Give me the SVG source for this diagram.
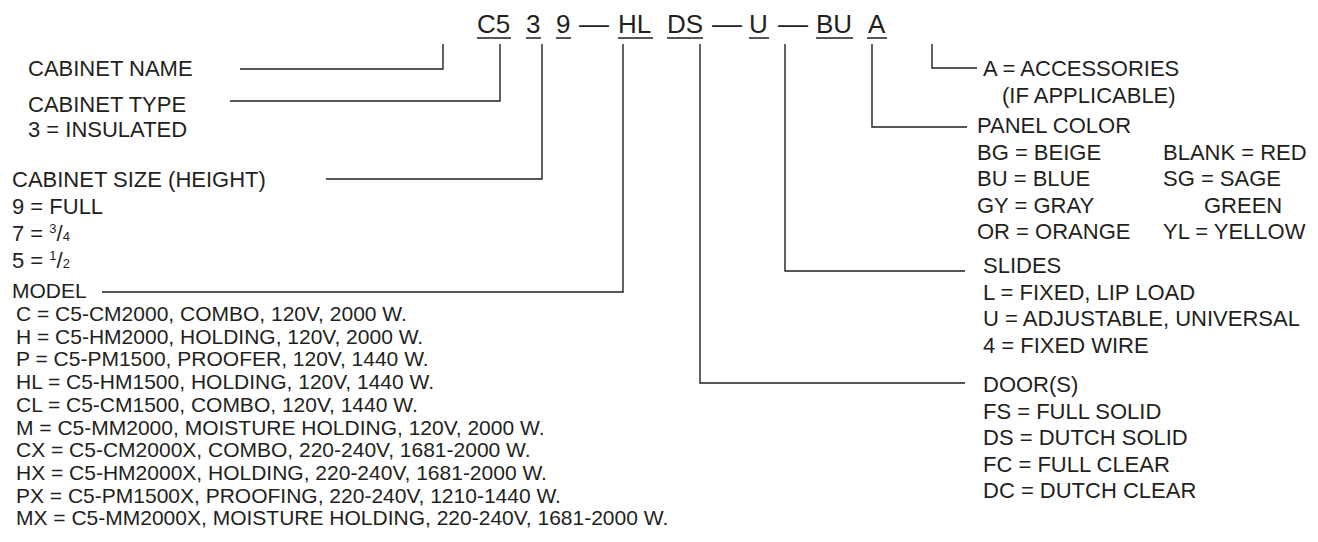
<svg xmlns="http://www.w3.org/2000/svg" width="1318" height="542" viewBox="0 0 1318 542">
<style>
text{font-family:"Liberation Sans",Arial,sans-serif;fill:#231f20}
.code{font-size:26px}
.lbl{font-size:22px}
.mdl{font-size:21px}
.sup{font-size:13px}
.ul{stroke:#231f20;stroke-width:1.3;fill:none}
.con{stroke:#231f20;stroke-width:1.4;fill:none}
</style>
<rect width="1318" height="542" fill="#ffffff"/>
<g id="code">
<text class="code" x="477" y="33">C5</text>
<text class="code" x="526" y="33">3</text>
<text class="code" x="556" y="33">9</text>
<text class="code" x="579" y="33" textLength="30" lengthAdjust="spacingAndGlyphs">—</text>
<text class="code" x="618" y="33">HL</text>
<text class="code" x="667" y="33">DS</text>
<text class="code" x="712" y="33" textLength="30" lengthAdjust="spacingAndGlyphs">—</text>
<text class="code" x="749" y="33">U</text>
<text class="code" x="778" y="33" textLength="30" lengthAdjust="spacingAndGlyphs">—</text>
<text class="code" x="816" y="33">BU</text>
<text class="code" x="868" y="33">A</text>
<path class="ul" d="M477 38H511M526 38H541M556 38H571M618 38H653M667 38H703M749 38H769M816 38H853M867 38H887"/>
</g>
<g id="connectors">
<polyline class="con" points="240,69 443,69 443,44"/>
<polyline class="con" points="230,101 500,101 500,44"/>
<polyline class="con" points="326,179 542,179 542,44"/>
<polyline class="con" points="102,292 623,292 623,44"/>
<polyline class="con" points="700,44 700,383 965,383"/>
<polyline class="con" points="785,44 785,271 965,271"/>
<polyline class="con" points="872,44 872,127 967,127"/>
<polyline class="con" points="932,44 932,68 977,68"/>
</g>
<g id="cabinet-name">
<text class="lbl" x="28" y="76">CABINET NAME</text>
</g>
<g id="cabinet-type">
<text class="lbl" x="28" y="112">CABINET TYPE</text>
<text class="lbl" x="28" y="137">3 = INSULATED</text>
</g>
<g id="cabinet-size">
<text class="lbl" x="12" y="187">CABINET SIZE (HEIGHT)</text>
<text class="lbl" x="12" y="214">9 = FULL</text>
<text class="lbl" x="12" y="241">7 = <tspan class="sup" dy="-8">3</tspan><tspan dy="8">/</tspan><tspan class="sup">4</tspan></text>
<text class="lbl" x="12" y="268">5 = <tspan class="sup" dy="-8">1</tspan><tspan dy="8">/</tspan><tspan class="sup">2</tspan></text>
</g>
<g id="model">
<text class="mdl" x="12" y="298">MODEL</text>
<text class="mdl" x="16" y="321">C = C5-CM2000, COMBO, 120V, 2000 W.</text>
<text class="mdl" x="16" y="343.7">H = C5-HM2000, HOLDING, 120V, 2000 W.</text>
<text class="mdl" x="16" y="366.4">P = C5-PM1500, PROOFER, 120V, 1440 W.</text>
<text class="mdl" x="16" y="389.1">HL = C5-HM1500, HOLDING, 120V, 1440 W.</text>
<text class="mdl" x="16" y="411.8">CL = C5-CM1500, COMBO, 120V, 1440 W.</text>
<text class="mdl" x="16" y="434.5">M = C5-MM2000, MOISTURE HOLDING, 120V, 2000 W.</text>
<text class="mdl" x="16" y="457.2">CX = C5-CM2000X, COMBO, 220-240V, 1681-2000 W.</text>
<text class="mdl" x="16" y="479.9">HX = C5-HM2000X, HOLDING, 220-240V, 1681-2000 W.</text>
<text class="mdl" x="16" y="502.6">PX = C5-PM1500X, PROOFING, 220-240V, 1210-1440 W.</text>
<text class="mdl" x="16" y="525.3">MX = C5-MM2000X, MOISTURE HOLDING, 220-240V, 1681-2000 W.</text>
</g>
<g id="accessories">
<text class="lbl" x="983" y="76">A = ACCESSORIES</text>
<text class="lbl" x="1002" y="103">(IF APPLICABLE)</text>
</g>
<g id="panel-color">
<text class="lbl" x="977" y="133">PANEL COLOR</text>
<text class="lbl" x="977" y="159.5">BG = BEIGE</text>
<text class="lbl" x="977" y="186">BU = BLUE</text>
<text class="lbl" x="977" y="212.5">GY = GRAY</text>
<text class="lbl" x="977" y="239">OR = ORANGE</text>
<text class="lbl" x="1163" y="159.5">BLANK = RED</text>
<text class="lbl" x="1163" y="186">SG = SAGE</text>
<text class="lbl" x="1204" y="212.5">GREEN</text>
<text class="lbl" x="1163" y="239">YL = YELLOW</text>
</g>
<g id="slides">
<text class="lbl" x="983" y="273">SLIDES</text>
<text class="lbl" x="983" y="299.5">L = FIXED, LIP LOAD</text>
<text class="lbl" x="983" y="326">U = ADJUSTABLE, UNIVERSAL</text>
<text class="lbl" x="983" y="352.5">4 = FIXED WIRE</text>
</g>
<g id="doors">
<text class="lbl" x="983" y="392">DOOR(S)</text>
<text class="lbl" x="983" y="418.5">FS = FULL SOLID</text>
<text class="lbl" x="983" y="445">DS = DUTCH SOLID</text>
<text class="lbl" x="983" y="471.5">FC = FULL CLEAR</text>
<text class="lbl" x="983" y="498">DC = DUTCH CLEAR</text>
</g>
</svg>
